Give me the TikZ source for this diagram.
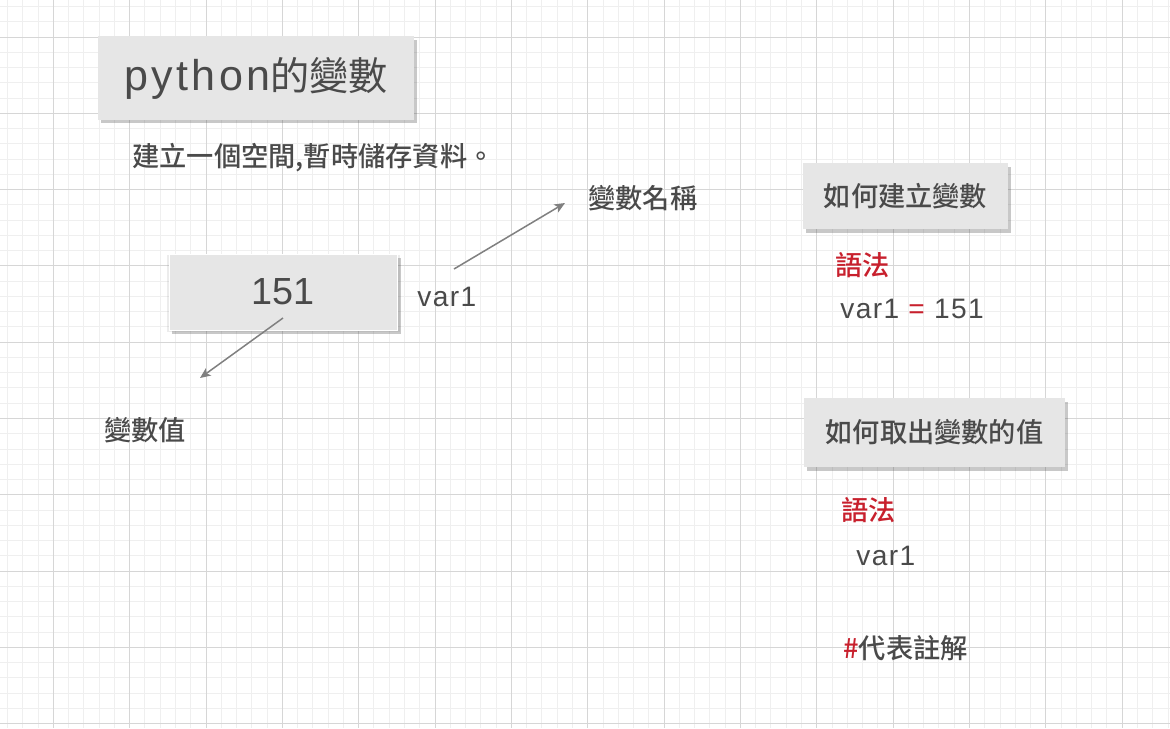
\documentclass[tikz,border=0pt]{standalone}
\usepackage{fontspec}
\setmainfont{Liberation Sans}
\newfontfamily\cjk{Noto Sans CJK TC}[BoldFont={Noto Sans CJK TC Medium}]
\newfontfamily\latin{Liberation Sans}[LetterSpace=5]
\newfontfamily\titlelatin{Liberation Sans}[LetterSpace=8]
\usetikzlibrary{shadows,arrows.meta}
\definecolor{ink}{HTML}{4A4A4A}
\definecolor{boxgray}{HTML}{E6E6E6}
\definecolor{synred}{HTML}{C8202D}
\definecolor{arrowgray}{HTML}{808080}
\definecolor{minorgrid}{HTML}{EFEFEF}
\definecolor{majorgrid}{HTML}{D6D6D6}
\tikzstyle{minorline}=[draw=minorgrid,line width=0.2mm]
\tikzstyle{majorline}=[draw=majorgrid,line width=0.2mm]
\tikzstyle{card}=[fill=boxgray,text=ink,inner sep=0pt,drop shadow={shadow xshift=0.6mm,shadow yshift=-0.7mm,opacity=0.3,fill=black!70}]
\tikzstyle{label}=[inner sep=0pt,text=ink]
\tikzstyle{pointer}=[draw=arrowgray,line width=0.3mm,-{Stealth[length=2.1mm,width=1.8mm,inset=0.5mm]}]
\tikzstyle{cjkbig}=[font=\cjk\bfseries\fontsize{15.5}{18}\selectfont]
\tikzstyle{cjkhead}=[font=\cjk\bfseries\fontsize{15.5}{18}\selectfont]
\tikzstyle{code}=[font=\latin\fontsize{16}{19}\selectfont]

\begin{document}
\begin{tikzpicture}[x=0.02cm,y=-0.02cm]
    \useasboundingbox (0,0) rectangle (1170,728);
    \fill[white] (0,0) rectangle (1170,728);
    % background grid
    \foreach \i in {-3,...,73}
        \draw[minorline] ({floor(53.3+15.27*\i)+0.5},0) -- ({floor(53.3+15.27*\i)+0.5},728);
    \foreach \j in {-2,...,45}
        \draw[minorline] (0,{floor(37+15.26*\j)+0.5}) -- (1170,{floor(37+15.26*\j)+0.5});
    \foreach \i in {0,...,14}
        \draw[majorline] ({floor(53.3+76.35*\i)+0.5},0) -- ({floor(53.3+76.35*\i)+0.5},728);
    \foreach \j in {0,...,9}
        \draw[majorline] (0,{floor(37+76.3*\j)+0.5}) -- (1170,{floor(37+76.3*\j)+0.5});

    % title and note
    \node[card,minimum width=6.32cm,minimum height=1.68cm] (title) at (256,78)
        {{\titlelatin\fontsize{24.5}{29}\selectfont python}{\cjk\fontsize{22.3}{26}\selectfont 的變數}};
    \node[label,cjkbig,anchor=west] (note) at (132,158) {建立一個空間,暫時儲存資料。};

    % the variable
    \node[card,draw=white,line width=0.2mm,minimum width=4.58cm,minimum height=1.52cm,
        drop shadow={shadow xshift=0mm,shadow yshift=-0.3mm,shadow scale=1.02,opacity=0.15}]
        (value) at (283.5,292) {\fontsize{21.5}{25}\selectfont 151};
    \node[label,code,anchor=base west] (name) at (417,306) {var1};
    \node[label,cjkbig,anchor=west] (namelabel) at (588,198) {變數名稱};
    \node[label,cjkbig,anchor=west] (valuelabel) at (104,430) {變數值};

    \coordinate (namefrom) at (454,269);
    \coordinate (nameto) at (565,203);
    \coordinate (valuefrom) at (283,318);
    \coordinate (valueto) at (200,378);
    \draw[pointer] (namefrom) -- (nameto);
    \draw[pointer] (valuefrom) -- (valueto);

    % how to create
    \node[card,cjkhead,minimum width=4.1cm,minimum height=1.32cm] (howmake) at (905.5,196) {如何建立變數};
    \node[label,cjkbig,text=synred,anchor=west] (syntaxa) at (835,265) {語法};
    \node[label,code,anchor=base west] (assign) at (840,318)
        {var1 \textcolor{synred}{=} 151};

    % how to read
    \node[card,cjkhead,minimum width=5.22cm,minimum height=1.38cm] (howread) at (934.5,432.5) {如何取出變數的值};
    \node[label,cjkbig,text=synred,anchor=west] (syntaxb) at (841,510) {語法};
    \node[label,code,anchor=base west] (read) at (856,565) {var1};
    \node[label,cjkbig,anchor=west] (comment) at (843,648) {\textcolor{synred}{\#}代表註解};
\end{tikzpicture}
\end{document}
